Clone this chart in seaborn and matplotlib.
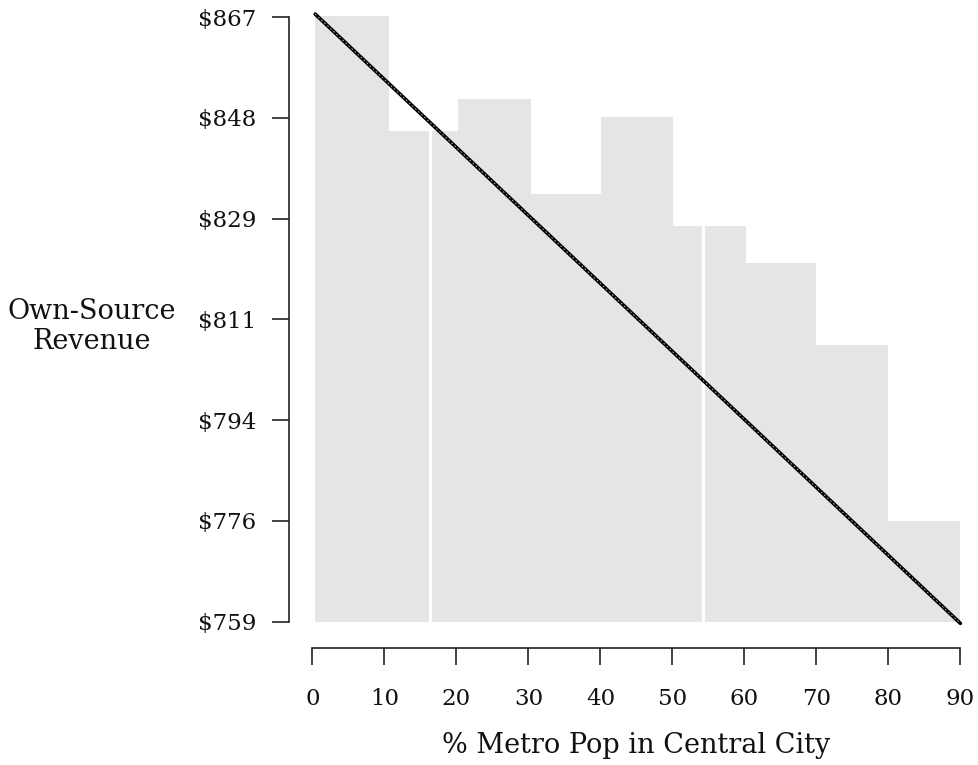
import numpy as np
import pandas as pd
import matplotlib
matplotlib.use("Agg")
import matplotlib.pyplot as plt
import seaborn as sns
from matplotlib.ticker import FixedLocator, FixedFormatter, NullLocator

# ---- data ----
bin_edges = [0.4, 10.7, 20.2, 30.4, 40.1, 50.1, 60.2, 69.9, 79.9, 90.0]
bin_values = [867.2, 845.6, 851.6, 834.0, 848.1, 828.1, 821.3, 806.6, 776.0]
baseline = 759.0
fit_x = [0.4, 90.0]
fit_y = [867.6, 758.7]
quartile_x = [16.4, 54.3]
y_ticks = list(np.exp(np.linspace(np.log(759), np.log(867), 7)))
y_tick_labels = ["$759", "$776", "$794", "$811", "$829", "$848", "$867"]
x_ticks = [0, 10, 20, 30, 40, 50, 60, 70, 80, 90]
x_label = "% Metro Pop in Central City"
y_label = "Own-Source\nRevenue"

sns.set_theme(style="white")
plt.rcParams["font.family"] = ["DejaVu Serif"]
plt.rcParams["font.size"] = 16

fig = plt.figure(figsize=(9.79, 7.65), dpi=100)
ax = fig.add_axes([0.2955, 0.1529, 0.6877, 0.8314])

lefts = bin_edges[:-1]
widths = [b - a for a, b in zip(bin_edges[:-1], bin_edges[1:])]
heights = [v - baseline for v in bin_values]
ax.bar(lefts, heights, width=widths, bottom=baseline, align="edge",
       color="#e5e5e5", edgecolor="none", linewidth=0, zorder=1)

for qx in quartile_x:
    ax.plot([qx, qx], [baseline, max(bin_values)], color="white", lw=2.2, zorder=2)

df = pd.DataFrame({"x": fit_x, "y": fit_y})
sns.lineplot(data=df, x="x", y="y", ax=ax, color="black", lw=2.6, zorder=3)
ax.plot(fit_x, fit_y, color="#d0d0d0", lw=0.6, ls=(0, (2.0, 3.0)), zorder=4)

ax.set_yscale("log")
ax.set_xlim(-3.2, 90.3)
ax.set_ylim(754.59, 868.0)

ax.yaxis.set_major_locator(FixedLocator(y_ticks))
ax.yaxis.set_major_formatter(FixedFormatter(y_tick_labels))
ax.yaxis.set_minor_locator(NullLocator())
ax.set_xticks(x_ticks)
ax.set_xticklabels([str(t) for t in x_ticks])

for side in ["top", "right"]:
    ax.spines[side].set_visible(False)
ax.spines["left"].set_bounds(759, 867)
ax.spines["bottom"].set_bounds(0, 90)
for side in ["left", "bottom"]:
    ax.spines[side].set_color("#222222")
    ax.spines[side].set_linewidth(1.2)

ax.tick_params(axis="y", which="major", length=12, width=1.2, color="#222222",
               pad=12, labelsize=16.5, labelcolor="#111111", left=True)
ax.tick_params(axis="x", which="major", length=12, width=1.2, color="#222222",
               pad=17, labelsize=16.5, labelcolor="#111111", bottom=True)

ax.set_xlabel(x_label, fontsize=19.5, color="#111111", va="center")
ax.xaxis.set_label_coords(0.515, -0.1525)
ax.set_ylabel(y_label, fontsize=19.5, color="#111111", rotation=0,
              ha="center", va="center", linespacing=1.15)
ax.yaxis.set_label_coords(-0.2931, 0.506)

fig.savefig("out.png", dpi=100)
